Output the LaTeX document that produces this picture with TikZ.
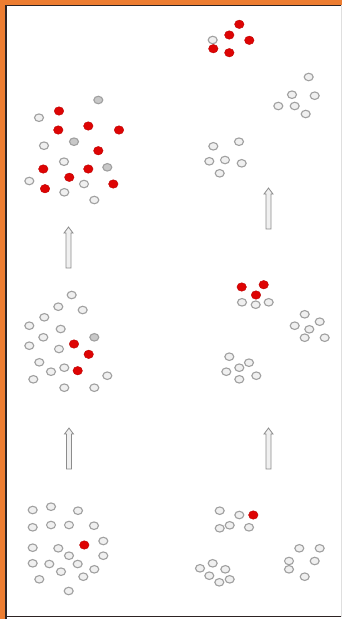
\documentclass[tikz,border=0pt]{standalone}
\usepackage{xcolor}
\usepackage{tikz}
\usetikzlibrary{shapes.geometric}
\definecolor{FrameOrange}{RGB}{237,125,49}
\definecolor{FrameDark}{RGB}{45,35,35}
\definecolor{DotRed}{RGB}{222,4,4}
\definecolor{DotEdge}{RGB}{160,160,160}
\definecolor{DotFill}{RGB}{240,240,240}
\definecolor{DotShade}{RGB}{200,200,200}
\definecolor{ArrowEdge}{RGB}{140,140,140}

\tikzset{
  reddot/.style={ellipse,fill=DotRed,draw=DotRed!85!black,line width=0.4pt,
                 minimum width=9.5pt,minimum height=8.5pt,inner sep=0pt},
  greydot/.style={ellipse,fill=DotFill,draw=DotEdge,line width=1.1pt,
                  minimum width=9pt,minimum height=7.5pt,inner sep=0pt},
  shadedot/.style={greydot,fill=DotShade},
  arrowbox/.style={draw=ArrowEdge,fill=DotFill,line width=0.8pt,line join=miter}
}

\begin{document}
\begin{tikzpicture}[x=1pt,y=-1pt]
  \useasboundingbox (0,0) rectangle (342,619);
  % frame
  \fill[white] (0,0) rectangle (342,619);
  \fill[FrameOrange] (0,0) rectangle (342,4.5);
  \fill[FrameOrange] (0,0) rectangle (5,619);
  \draw[FrameDark,line width=1.6pt] (6,619) -- (6,5.3) -- (342,5.3);
  \draw[FrameDark,line width=1.2pt] (6,616.8) -- (342,616.8);
  \draw[gray!25,line width=0.8pt] (341.5,5.3) -- (341.5,616.8);

  % grey dots
  \foreach \x/\y [count=\i] in {
      39/117.7, 44/145.7, 64/161.7, 29.3/181, 84/184, 64.3/192.3, 94.3/200,
      212.7/40, 308.7/77, 292/94.7, 314.7/95.7, 278.3/106, 294.7/106, 305.7/114,
      213.3/146.3, 239/141.7, 209.3/161.3, 225/160, 241.7/163.3, 219.7/173.3,
      71.7/295, 58.3/306.7, 82.7/310, 44.3/317.3, 29.3/325.7, 60.7/329,
      43.3/337.3, 29.3/345.7, 59/349, 39.3/362.3, 64.3/367.7, 51/371.7,
      107.3/375.7, 33.3/379.3, 64.3/387.7, 94.3/387.7,
      242/302.3, 255.7/304.7, 268.7/302.3, 304.7/314.3, 319.7/321.7,
      294.7/325.7, 309.3/329.3, 304.7/337.7, 324.7/337.7,
      229.3/356.7, 249/362.7, 239.3/367.7, 226.3/371.7, 256.3/375.7, 239.3/379.3,
      32.7/510, 51/506.7, 78/510.7, 32.7/527.3, 51/525, 69/525, 94/525.7,
      103.3/541, 32.7/547.7, 58.3/548.3, 69/555.7, 103.3/555.7, 32.7/563.3,
      49.3/564, 77.7/564, 61/571.7, 94.3/569.3, 39.3/579.3, 83.3/576.7, 68.7/591,
      219.7/510.7, 239.3/515, 229.7/525.3, 219.7/528.3, 249/527.3,
      299.3/548.3, 319.7/548.3, 289/561, 314.7/561, 289/569.3, 304.7/576.7,
      212.7/563.3, 225.3/569.3, 200/568.3, 209.3/575.7, 219.3/582.3, 229.7/579.3}
    \node[greydot] (g\i) at (\x,\y) {};
  \foreach \x/\y [count=\i] in {98.3/100, 74/141.7, 107.3/167.3, 94.3/337.3}
    \node[shadedot] (s\i) at (\x,\y) {};

  % red dots
  \foreach \x/\y [count=\i] in {
      59/111, 58.3/130, 88.3/126, 119/130, 98.3/150.7, 43.3/169, 88.3/169,
      69.3/177.3, 113.3/184, 45/188.7,
      239.3/24.3, 229.3/35, 249.3/40.3, 213.3/48.7, 229.3/52.7,
      74/344, 88.7/354.3, 77.7/370.7,
      241.7/287, 263.7/284.7, 256/295,
      84.3/545, 253.3/515}
    \node[reddot] (r\i) at (\x,\y) {};

  % up arrows
  \foreach \ax/\ay in {68.5/268, 69/469, 268.5/229, 268.5/469}
    \draw[arrowbox] (\ax-2.5,\ay) -- (\ax-2.5,\ay-35) -- (\ax-4.5,\ay-35)
      -- (\ax,\ay-41) -- (\ax+4.5,\ay-35) -- (\ax+2.5,\ay-35) -- (\ax+2.5,\ay) -- cycle;
\end{tikzpicture}
\end{document}
